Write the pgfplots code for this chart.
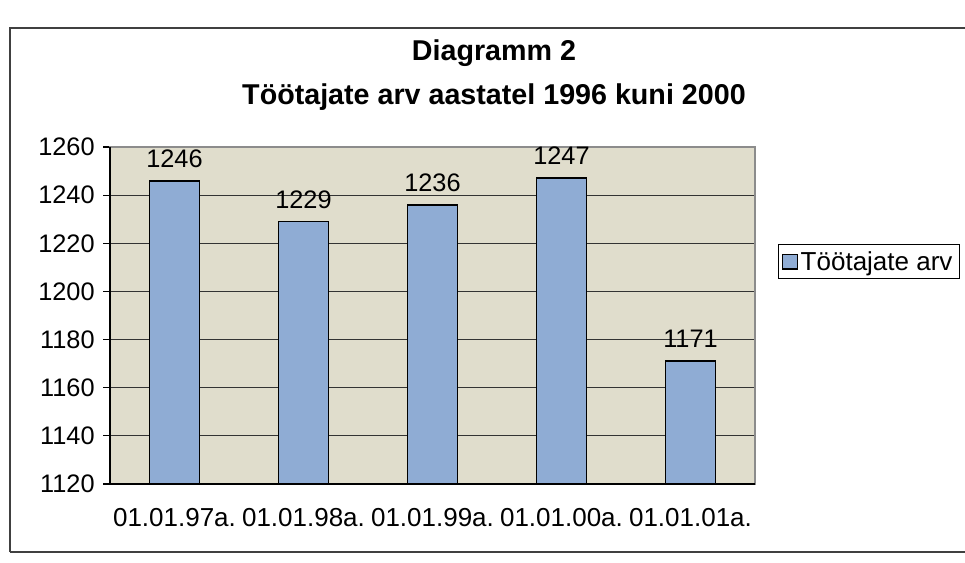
\documentclass[border=0pt]{standalone}
\usepackage{pgfplots}
\pgfplotsset{compat=1.18}
\usepackage{fontspec}
\setmainfont{Liberation Sans}
\definecolor{plotbg}{RGB}{224,221,204}
\definecolor{barblue}{RGB}{143,172,212}
\begin{document}
\begin{tikzpicture}
\path[use as bounding box, fill=white] (0,0) rectangle (723.75pt,421.5pt);
\draw[black!75, line width=0.8pt] (7.5pt,7.5pt) -- (7.5pt,400.5pt) -- (723.75pt,400.5pt);
\draw[black!75, line width=0.8pt] (7.5pt,7.5pt) -- (723.75pt,7.5pt);
\node[font=\fontsize{21.5}{24}\selectfont\bfseries] at (370.5pt,382pt) {Diagramm 2};
\node[font=\fontsize{21.5}{24}\selectfont\bfseries] at (370.5pt,348.75pt) {Töötajate arv aastatel 1996 kuni 2000};
\begin{axis}[
  at={(82.5pt,58.5pt)}, anchor=south west,
  scale only axis, width=483.75pt, height=252.75pt,
  ybar, bar width=37.5pt,
  xmin=-0.5, xmax=4.5, ymin=1120, ymax=1260,
  ytick={1120,1140,...,1260},
  xtick={0,...,4},
  xticklabels={01.01.97a.,01.01.98a.,01.01.99a.,01.01.00a.,01.01.01a.},
  extra x ticks={-0.5,0.5,1.5,2.5,3.5,4.5},
  extra x tick labels={},
  extra x tick style={major tick style={black, line width=0.8pt}, grid=none},
  major x tick style={draw=none},
  major y tick style={black, line width=0.8pt},
  tick align=outside, major tick length=5pt,
  ytick pos=left, xtick pos=bottom,
  axis background/.style={fill=plotbg},
  axis line style={black!45, line width=0.8pt},
  ymajorgrids, grid style={black!80, line width=0.6pt},
  /pgf/number format/assume math mode=true,
  /pgf/number format/set thousands separator={},
  yticklabel style={font=\fontsize{19}{21}\selectfont, xshift=-3pt},
  xticklabel style={font=\fontsize{19.5}{21}\selectfont, yshift=-10pt},
  nodes near coords,
  nodes near coords style={font=\fontsize{19}{21}\selectfont, yshift=6pt},
  clip=false,
  legend style={at={(1,0.66)}, anchor=west, xshift=17pt, draw=black, line width=0.6pt,
    font=\fontsize{19.5}{21}\selectfont, inner sep=3pt},
  legend image code/.code={\draw[#1, line width=1pt] (0pt,-5.5pt) rectangle (11pt,5.5pt);},
  after end axis/.code={\draw[black, line width=0.9pt] (rel axis cs:0,1) -- (rel axis cs:0,0) -- (rel axis cs:1,0);},
]
\addplot[fill=barblue, draw=black, line width=1.3pt] coordinates {(0,1246) (1,1229) (2,1236) (3,1247) (4,1171)};
\legend{Töötajate arv}
\end{axis}
\end{tikzpicture}
\end{document}
